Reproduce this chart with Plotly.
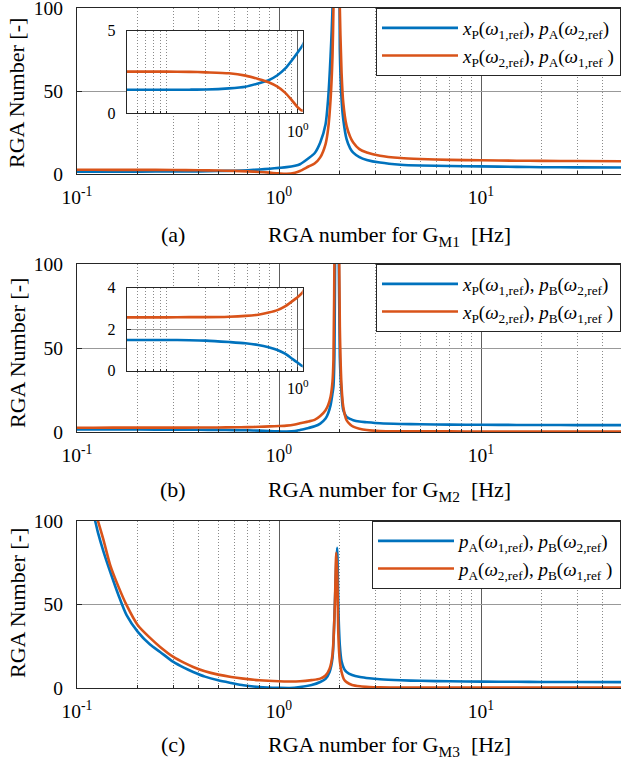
import math
import plotly.graph_objects as go

# ---------------- data ----------------
freq_ab = [0.05, 0.1, 0.15, 0.2, 0.3, 0.4, 0.5, 0.6, 0.7, 0.8, 0.9, 1.0, 1.09, 1.2, 1.27,
           1.4, 1.5, 1.6, 1.7, 1.75, 1.8, 1.84, 1.86, 1.88, 1.92, 1.96, 2.0, 2.04, 2.08,
           2.16, 2.25, 2.33, 2.5, 2.72, 3.16, 4.0, 5.0, 7.0, 10.0, 15.0, 20.0, 30.0, 50.0]

a_blue = [1.43, 1.43, 1.43, 1.44, 1.51, 1.61, 1.81, 2.0, 2.3, 2.7, 3.2, 3.7, 4.13, 5.0, 5.9,
          9.5, 12.5, 19, 30, 45, 71, 100, 140, 200, 600, 300, 75, 45, 33,
          21, 15.5, 12.9, 10.2, 8.5, 6.9, 5.6, 5.1, 4.8, 4.6, 4.3, 4.1, 4.0, 3.9]
a_orange = [2.52, 2.52, 2.51, 2.48, 2.42, 2.28, 2.08, 1.88, 1.61, 1.25, 0.8, 0.36, 0.16, 0.8, 1.8,
            4.5, 6.3, 10, 18, 27, 45, 71, 100, 150, 600, 250, 100, 61, 43,
            29, 22.5, 19, 15, 13, 11, 9.6, 9.0, 8.5, 8.3, 8.0, 7.9, 7.8, 7.7]

b_blue = [1.48, 1.48, 1.47, 1.45, 1.38, 1.32, 1.24, 1.13, 1.0, 0.82, 0.59, 0.38, 0.22, 0.5, 1.2,
          2.4, 3.4, 5.0, 8, 11, 16, 23, 27, 45, 200, 150, 45, 23, 13,
          9, 7.8, 7, 6.2, 5.8, 5.2, 4.8, 4.6, 4.4, 4.3, 4.2, 4.2, 4.1, 4.1]
b_orange = [2.57, 2.57, 2.58, 2.58, 2.6, 2.64, 2.7, 2.8, 2.92, 3.1, 3.33, 3.55, 3.78, 4.5, 5.2,
            6.3, 7.2, 9.5, 13, 16, 21, 30, 43, 100, 600, 200, 63, 27, 15,
            7, 4.5, 3.2, 2.0, 1.2, 0.6, 0.45, 0.4, 0.35, 0.3, 0.3, 0.3, 0.3, 0.3]

freq_c = [0.1, 0.11, 0.123, 0.127, 0.135, 0.146, 0.16, 0.176, 0.2, 0.23, 0.258, 0.3, 0.34,
          0.376, 0.43, 0.5, 0.58, 0.666, 0.8, 1.0, 1.13, 1.27, 1.45, 1.6, 1.7, 1.78, 1.84,
          1.89, 1.92, 1.94, 1.97, 2.0, 2.04, 2.1, 2.16, 2.3, 2.52, 2.8, 3.16, 4.0, 5.0, 7.0,
          10.0, 15.0, 20.0, 30.0, 50.0]
c_blue = [145, 120, 100, 93, 82, 69.6, 56, 43.6, 33.6, 26, 21.6, 15.6, 12,
          9.6, 6.8, 4.6, 3.0, 1.6, 0.6, 0.1, 0.0, 0.6, 1.8, 3.6, 5.5, 9.6, 18,
          50, 75, 84, 45, 25.6, 16, 11.5, 9.6, 7.8, 6.6, 5.8, 5.2, 4.6, 4.3, 4.0,
          3.8, 3.7, 3.6, 3.6, 3.5]
c_orange = [150, 128, 106, 100, 89, 73.6, 61, 49.6, 37.6, 30, 24.6, 18.6, 15,
            12.6, 10, 8, 6.6, 5.6, 4.6, 4, 3.9, 4, 4.7, 5.6, 7.5, 11.6, 20,
            50, 81, 70, 29.6, 16, 9.6, 5, 3.5, 1.8, 1.0, 0.6, 0.4, 0.3, 0.25, 0.2,
            0.2, 0.2, 0.2, 0.2, 0.2]

for s in (a_blue, a_orange, b_blue, b_orange):
    assert len(s) == len(freq_ab)
for s in (c_blue, c_orange):
    assert len(s) == len(freq_c)

legend_a = ["<i>x</i><sub>P</sub>(<i>ω</i><sub>1,ref</sub>), <i>p</i><sub>A</sub>(<i>ω</i><sub>2,ref</sub>)",
            "<i>x</i><sub>P</sub>(<i>ω</i><sub>2,ref</sub>), <i>p</i><sub>A</sub>(<i>ω</i><sub>1,ref</sub> )"]
legend_b = ["<i>x</i><sub>P</sub>(<i>ω</i><sub>1,ref</sub>), <i>p</i><sub>B</sub>(<i>ω</i><sub>2,ref</sub>)",
            "<i>x</i><sub>P</sub>(<i>ω</i><sub>2,ref</sub>), <i>p</i><sub>B</sub>(<i>ω</i><sub>1,ref</sub> )"]
legend_c = ["<i>p</i><sub>A</sub>(<i>ω</i><sub>1,ref</sub>), <i>p</i><sub>B</sub>(<i>ω</i><sub>2,ref</sub>)",
            "<i>p</i><sub>A</sub>(<i>ω</i><sub>2,ref</sub>), <i>p</i><sub>B</sub>(<i>ω</i><sub>1,ref</sub> )"]

panel_tags = ["(a)", "(b)", "(c)"]
panel_titles = ["RGA number for G<sub>M1</sub>\u00a0\u00a0[Hz]",
                "RGA number for G<sub>M2</sub>\u00a0\u00a0[Hz]",
                "RGA number for G<sub>M3</sub>\u00a0\u00a0[Hz]"]
y_title = "RGA Number [-]"

main_xticks = [0.1, 1, 10]
main_xticktext = ["10<sup>-1</sup>", "10<sup>0</sup>", "10<sup>1</sup>"]
main_minor = [0.2, 0.3, 0.4, 0.5, 0.6, 0.7, 0.8, 0.9, 2, 3, 4, 5, 6, 7, 8, 9, 20, 30, 40]
main_yticks = [0, 50, 100]
inset_minor = [0.06, 0.07, 0.08, 0.09, 0.1, 0.2, 0.3, 0.4, 0.5, 0.6, 0.7, 0.8, 0.9]

# ---------------- styling / layout ----------------
W, H = 621, 767
BLUE = "#0072BD"
ORANGE = "#D95319"
FONT = "Liberation Serif"
AXC = "#262626"
LW = 2.6
TICK = 19.5
TXT = 22
DOT = "1px,2px"
MINORC = "#8a8a8a"


def px(p):
    return p / W


def py(p):
    return 1 - p / H


fig = go.Figure()

panels = [
    dict(freq=freq_ab, blue=a_blue, orange=a_orange, leg=legend_a, top=8, bot=174,
         legend="legend", inset=(30.7, 113.3, 5, [0, 5])),
    dict(freq=freq_ab, blue=b_blue, orange=b_orange, leg=legend_b, top=264, bot=432,
         legend="legend2", inset=(287.7, 370.7, 4, [0, 2, 4])),
    dict(freq=freq_c, blue=c_blue, orange=c_orange, leg=legend_c, top=521, bot=688,
         legend="legend3", inset=None),
]

layout = dict(
    width=W, height=H, margin=dict(l=0, r=0, t=0, b=0, autoexpand=False),
    paper_bgcolor="white", plot_bgcolor="white",
    font=dict(family=FONT, color="black", size=19),
    showlegend=True,
)

annotations = []
axis_n = 0
title_caps = [220, 475, 730]
ytitle_centers = [93, 353, 603]
line_kw = dict(shape="spline", smoothing=0.7, width=LW)

for i, p in enumerate(panels):
    axis_n += 1
    xa = f"xaxis{'' if axis_n == 1 else axis_n}"
    ya = f"yaxis{'' if axis_n == 1 else axis_n}"
    xr = f"x{'' if axis_n == 1 else axis_n}"
    yr = f"y{'' if axis_n == 1 else axis_n}"
    layout[xa] = dict(
        type="log", range=[-1, math.log10(50) - 0.006], domain=[px(77), 1.0], anchor=yr,
        tickmode="array", tickvals=main_xticks, ticktext=main_xticktext,
        showgrid=True, gridcolor="#5e5e5e", gridwidth=1,
        minor=dict(tickmode="array", tickvals=main_minor, showgrid=True, gridcolor=MINORC,
                   griddash=DOT, gridwidth=1, ticks="inside", ticklen=3, tickcolor=AXC),
        showline=True, linecolor=AXC, linewidth=1, mirror=True,
        ticks="inside", ticklen=5, tickcolor=AXC,
        tickfont=dict(size=TICK, family=FONT, color="black"), ticklabelstandoff=6,
        ticklabeloverflow="allow",
        zeroline=False, fixedrange=True, automargin=False,
    )
    layout[ya] = dict(
        range=[0, 100], domain=[py(p["bot"]), py(p["top"])], anchor=xr,
        tickmode="array", tickvals=main_yticks,
        showgrid=True, gridcolor="#999999", gridwidth=1,
        showline=True, linecolor=AXC, linewidth=1,
        ticks="inside", ticklen=5, tickcolor=AXC,
        tickfont=dict(size=TICK, family=FONT, color="black"), ticklabelstandoff=9,
        ticklabeloverflow="allow",
        zeroline=False, fixedrange=True, automargin=False,
    )
    fig.add_trace(go.Scatter(x=p["freq"], y=p["blue"], mode="lines", name=p["leg"][0],
                             line=dict(color=BLUE, **line_kw), xaxis=xr, yaxis=yr,
                             legend=p["legend"], cliponaxis=True))
    fig.add_trace(go.Scatter(x=p["freq"], y=p["orange"], mode="lines", name=p["leg"][1],
                             line=dict(color=ORANGE, **line_kw), xaxis=xr, yaxis=yr,
                             legend=p["legend"], cliponaxis=True))
    layout[p["legend"]] = dict(
        x=1.0, xanchor="right", y=py(p["top"]), yanchor="top",
        bgcolor="white", bordercolor=AXC, borderwidth=1,
        font=dict(size=19, family=FONT, color="black"),
        itemwidth=76, tracegroupgap=0,
    )

    if p["inset"] is not None:
        itop, ibot, ymax, yt = p["inset"]
        axis_n += 1
        xa = f"xaxis{axis_n}"
        ya = f"yaxis{axis_n}"
        xr = f"x{axis_n}"
        yr = f"y{axis_n}"
        layout[xa] = dict(
            type="log", range=[math.log10(0.05), math.log10(1.09)],
            domain=[px(126.7), px(302.7)], anchor=yr,
            tickmode="array", tickvals=[1], ticktext=["10<sup>0</sup>"],
            showgrid=True, gridcolor="#5e5e5e", gridwidth=1,
            minor=dict(tickmode="array", tickvals=inset_minor, showgrid=True, gridcolor=MINORC,
                       griddash=DOT, gridwidth=1, ticks="inside", ticklen=2, tickcolor=AXC),
            showline=True, linecolor=AXC, linewidth=1, mirror=True,
            ticks="inside", ticklen=4, tickcolor=AXC,
            tickfont=dict(size=16, family=FONT, color="black"), ticklabelstandoff=3,
            ticklabeloverflow="allow",
            zeroline=False, fixedrange=True, automargin=False,
        )
        layout[ya] = dict(
            range=[0, ymax], domain=[py(ibot), py(itop)], anchor=xr,
            tickmode="array", tickvals=yt,
            showgrid=True, gridcolor="#999999", gridwidth=1,
            showline=True, linecolor=AXC, linewidth=1, mirror=True,
            ticks="inside", ticklen=4, tickcolor=AXC,
            tickfont=dict(size=16, family=FONT, color="black"), ticklabelstandoff=7,
            ticklabeloverflow="allow",
            zeroline=False, fixedrange=True, automargin=False,
        )
        fig.add_trace(go.Scatter(x=p["freq"], y=p["blue"], mode="lines", showlegend=False,
                                 line=dict(color=BLUE, **line_kw), xaxis=xr, yaxis=yr))
        fig.add_trace(go.Scatter(x=p["freq"], y=p["orange"], mode="lines", showlegend=False,
                                 line=dict(color=ORANGE, **line_kw), xaxis=xr, yaxis=yr))

    # texts under each panel
    annotations.append(dict(text=panel_tags[i], x=px(173), y=py(title_caps[i]), xref="paper",
                            yref="paper", xanchor="center", yanchor="top", showarrow=False,
                            font=dict(size=TXT, family=FONT, color="black")))
    annotations.append(dict(text=panel_titles[i], x=px(266), y=py(title_caps[i]), xref="paper",
                            yref="paper", xanchor="left", yanchor="top", showarrow=False,
                            font=dict(size=TXT, family=FONT, color="black")))
    annotations.append(dict(text=y_title, x=px(17), y=py(ytitle_centers[i]), xref="paper",
                            yref="paper", xanchor="center", yanchor="middle", textangle=-90,
                            showarrow=False, font=dict(size=TXT, family=FONT, color="black")))

layout["annotations"] = annotations
fig.update_layout(**layout)

page_fix = ("document.body.style.margin='0';document.body.style.padding='0';"
            "document.body.style.overflow='hidden';"
            "document.documentElement.style.overflow='hidden';")
fig.write_html("out.html", post_script=page_fix, config={"displayModeBar": False})
